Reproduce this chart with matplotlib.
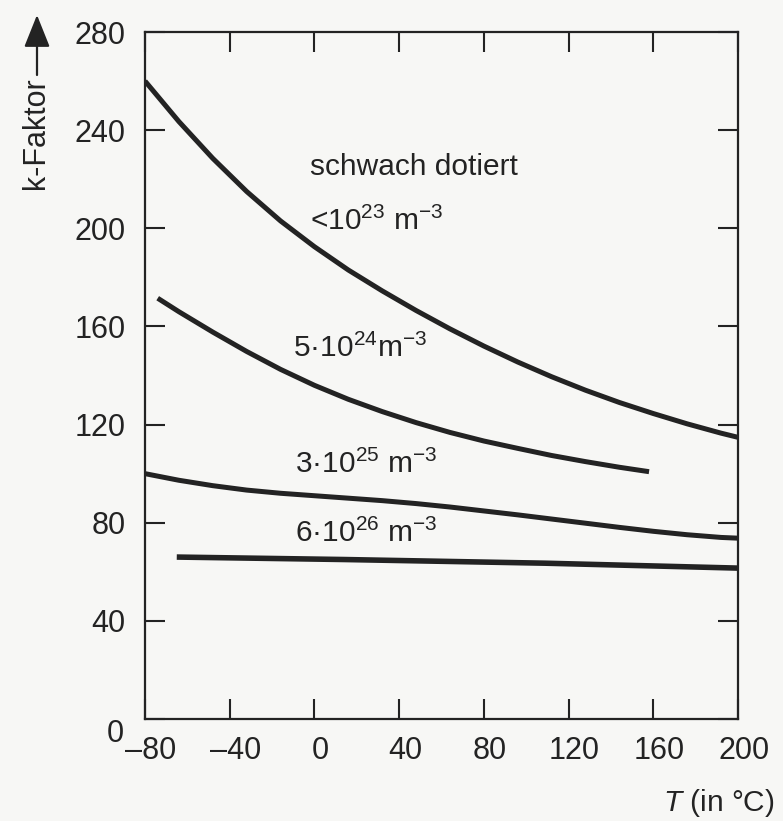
import matplotlib
matplotlib.use("Agg")
import matplotlib.pyplot as plt
from matplotlib import font_manager
from matplotlib.patches import FancyArrowPatch
from matplotlib.transforms import ScaledTranslation

# Temperature (°C) and k-factor for each doping level
temp_low = [-80, -64, -48, -32, -16, 0, 16, 32, 48, 64, 80, 96, 112, 128, 144, 160, 176, 192, 200]
k_low = [260, 243.5, 228.5, 215, 203, 192.5, 183, 174.5, 166.5, 159, 152, 145.5, 139.5, 134,
         129, 124.5, 120.3, 116.5, 114.8]

temp_5e24 = [-74, -64, -48, -32, -16, 0, 16, 32, 48, 64, 80, 96, 112, 128, 144, 158]
k_5e24 = [171.5, 166, 157.7, 149.8, 142.5, 136, 130.3, 125.3, 120.8, 116.8, 113.3, 110.3,
          107.4, 104.9, 102.6, 100.8]

temp_3e25 = [-80, -64, -48, -32, -16, 0, 16, 32, 48, 64, 80, 96, 112, 128, 144, 160, 176, 192, 200]
k_3e25 = [100, 97.3, 95.1, 93.3, 92, 91, 90, 89, 87.8, 86.4, 84.8, 83.2, 81.5, 79.8, 78.1,
          76.5, 75.1, 74, 73.7]

temp_6e26 = [-65, 14, 109, 200]
k_6e26 = [66, 65, 63.5, 61.5]

x_ticks = [-80, -40, 0, 40, 80, 120, 160, 200]
y_ticks = [0, 40, 80, 120, 160, 200, 240, 280]

curve_labels = [
    ("schwach dotiert", -2.2, 221.7),
    ("<10$^{23}$ m$^{-3}$", -2.2, 199.3),
    ("5·10$^{24}$m$^{-3}$", -10.2, 147.5),
    ("3·10$^{25}$ m$^{-3}$", -9.3, 100.3),
    ("6·10$^{26}$ m$^{-3}$", -9.3, 72.1),
]

available = {f.name for f in font_manager.fontManager.ttflist}
family = "Liberation Sans" if "Liberation Sans" in available else "DejaVu Sans"

plt.rcParams["font.family"] = [family, "DejaVu Sans"]
plt.rcParams["mathtext.fontset"] = "custom"
plt.rcParams["mathtext.rm"] = family
plt.rcParams["mathtext.it"] = family + ":italic"
plt.rcParams["mathtext.bf"] = family + ":bold"

ink = "#232323"
paper = "#f7f7f5"

fig = plt.figure(figsize=(7.83, 8.21), dpi=100, facecolor=paper)
ax = fig.add_axes([145 / 783, 1 - 719 / 821, (738 - 145) / 783, (719 - 32) / 821])
ax.set_facecolor(paper)

line_kw = dict(color=ink, solid_capstyle="butt", solid_joinstyle="round")
ax.plot(temp_low, k_low, lw=3.6, **line_kw)
ax.plot(temp_5e24, k_5e24, lw=3.6, **line_kw)
ax.plot(temp_3e25, k_3e25, lw=3.6, **line_kw)
ax.plot(temp_6e26, k_6e26, lw=4.0, **line_kw)

for txt, tx, ty in curve_labels:
    ax.text(tx, ty, txt, fontsize=21.5, color=ink, ha="left", va="baseline")

ax.set_xlim(-80, 200)
ax.set_ylim(0, 280)
ax.set_xticks(x_ticks)
ax.set_yticks(y_ticks)
ax.set_xticklabels([str(v).replace("-", "\u2013") for v in x_ticks])
ax.set_yticklabels([str(v) for v in y_ticks])

for sp in ax.spines.values():
    sp.set_linewidth(1.6)
    sp.set_color(ink)

ax.tick_params(axis="both", which="major", direction="in", length=14.5, width=1.5,
               color=ink, labelcolor=ink, labelsize=22,
               top=True, right=True, labeltop=False, labelright=False)
ax.tick_params(axis="x", pad=12)
ax.tick_params(axis="y", pad=14)

# nudge the tick labels slightly as in the printed figure
for lab in ax.get_xticklabels():
    lab.set_transform(lab.get_transform() + ScaledTranslation(6 / 100, 0, fig.dpi_scale_trans))
zero_lab = ax.get_yticklabels()[0]
zero_lab.set_transform(zero_lab.get_transform() + ScaledTranslation(-2 / 100, -11 / 100, fig.dpi_scale_trans))

# axis titles
fig.text(775 / 783, 1 - 803 / 821, "$T$ (in °C)", fontsize=21.5, color=ink,
         ha="right", va="center")
fig.text(36 / 783, 1 - 133 / 821, "k-Faktor", fontsize=22, color=ink,
         rotation=90, ha="center", va="center")
fig.add_artist(FancyArrowPatch(
    (37 / 783, 1 - 75 / 821), (37 / 783, 1 - 15 / 821),
    transform=fig.transFigure, arrowstyle="-|>,head_length=1.0,head_width=0.4",
    mutation_scale=20, color=ink, lw=1.6, shrinkA=0, shrinkB=0))

fig.savefig("out.png", dpi=100, facecolor=paper)
